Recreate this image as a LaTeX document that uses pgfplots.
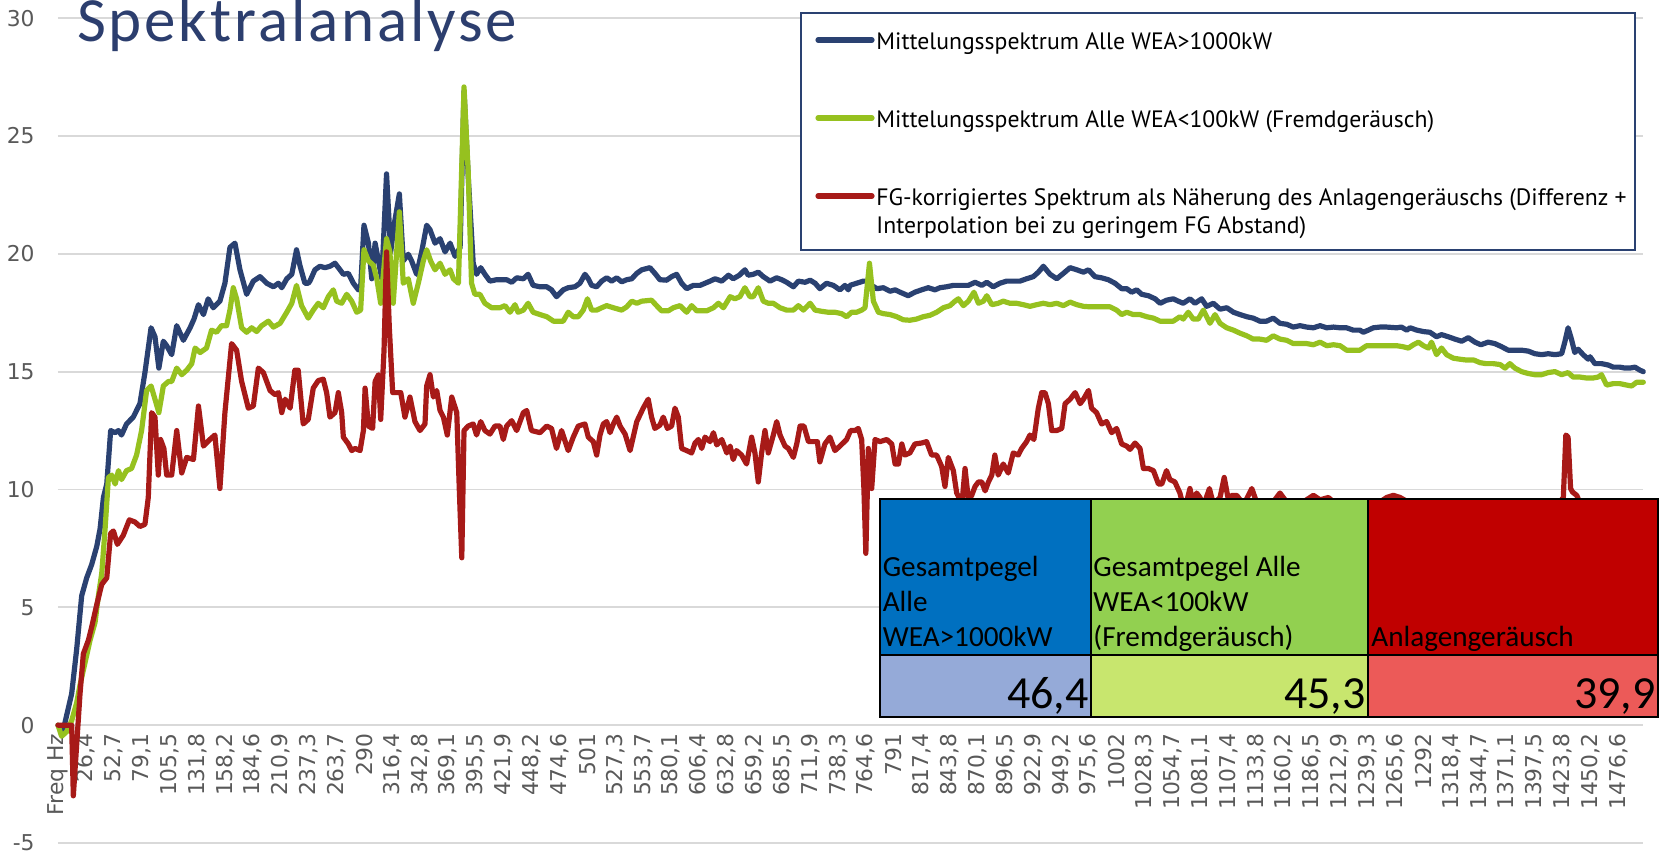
\documentclass[border=0pt]{standalone}
\usepackage{pgfplots}
\pgfplotsset{compat=1.18}
\usepackage{fontspec}
\newfontfamily\tickfont{DejaVu Sans}
\newfontfamily\legfont{PT Sans}
\newfontfamily\calfont{Carlito}
\definecolor{cblue}{RGB}{42,65,113}
\definecolor{cgreen}{RGB}{150,193,31}
\definecolor{cred}{RGB}{167,26,24}
\definecolor{gridgray}{RGB}{217,217,217}
\definecolor{tickgray}{RGB}{89,89,89}
\definecolor{titleblue}{RGB}{44,62,110}
\definecolor{hblue}{RGB}{0,112,192}
\definecolor{hgreen}{RGB}{146,208,80}
\definecolor{hred}{RGB}{192,0,0}
\definecolor{vblue}{RGB}{149,170,216}
\definecolor{vgreen}{RGB}{200,230,110}
\definecolor{vred}{RGB}{236,90,88}
\newcommand\tk{\kern1.35pt}
\begin{document}
\begin{tikzpicture}
\useasboundingbox (-29pt,-4pt) rectangle (803.5pt,421.5pt);
\begin{axis}[
  at={(0pt,0pt)}, anchor=south west,
  scale only axis, width=792.65pt, height=412.45pt,
  xmin=0, xmax=56.89, ymin=-5, ymax=30,
  axis x line*=middle,
  hide obscured x ticks=false,
  axis line style={draw=none},
  major tick length=0pt,
  ytick={-5,0,5,10,15,20,25,30},
  yticklabels={-5,0,5,10,15,20,25,30},
  ymajorgrids, grid style={color=gridgray, line width=0.9pt},
  xtick={0,1,...,56},
  xticklabels={{Freq Hz},{26,4},{52,7},{79,1},{105,5},{131,8},{158,2},{184,6},{210,9},{237,3},{263,7},{290},{316,4},{342,8},{369,1},{395,5},{421,9},{448,2},{474,6},{501},{527,3},{553,7},{580,1},{606,4},{632,8},{659,2},{685,5},{711,9},{738,3},{764,6},{791},{817,4},{843,8},{870,1},{896,5},{922,9},{949,2},{975,6},{1002},{1028,3},{1054,7},{1081,1},{1107,4},{1133,8},{1160,2},{1186,5},{1212,9},{1239,3},{1265,6},{1292},{1318,4},{1344,7},{1371,1},{1397,5},{1423,8},{1450,2},{1476,6}},
  x tick label style={rotate=90, anchor=east, inner sep=0pt, font=\tickfont\fontsize{10.9}{12}\selectfont, text=tickgray},
  xticklabel shift=4pt,
  y tick label style={anchor=east, inner sep=0pt, font=\tickfont\fontsize{10.9}{12}\selectfont, text=tickgray},
  yticklabel shift=11.5pt,
  clip=false,
  every axis plot/.append style={line width=2.6pt, line join=round, line cap=round},
]
\addplot[cblue] coordinates {(0,0) (0.19,-0.2) (0.49,1.33) (0.67,3.22) (0.85,5.49) (1.03,6.25) (1.21,6.82) (1.39,7.58) (1.51,8.33) (1.63,9.66) (1.75,10.23) (1.89,12.50) (2.05,12.41) (2.17,12.50) (2.28,12.31) (2.46,12.78) (2.70,13.07) (2.94,13.64) (3.12,14.96) (3.34,16.86) (3.48,16.48) (3.62,15.15) (3.78,16.29) (3.90,16.10) (4.08,15.72) (4.26,16.95) (4.50,16.33) (4.74,16.86) (4.88,17.23) (5.04,17.84) (5.22,17.42) (5.39,18.09) (5.57,17.71) (5.81,17.99) (5.99,18.75) (6.17,20.27) (6.35,20.45) (6.53,19.32) (6.77,18.28) (7.01,18.84) (7.25,19.03) (7.49,18.75) (7.73,18.60) (7.91,18.75) (8.03,18.56) (8.21,18.94) (8.39,19.13) (8.56,20.17) (8.68,19.51) (8.86,18.75) (8.98,18.75) (9.04,18.84) (9.22,19.32) (9.40,19.47) (9.58,19.41) (9.76,19.47) (9.94,19.60) (10.12,19.32) (10.24,19.13) (10.42,19.17) (10.60,18.75) (10.78,18.47) (10.86,18.56) (10.98,21.21) (11.14,20.45) (11.26,18.94) (11.38,20.45) (11.50,19.70) (11.62,18.94) (11.79,23.39) (11.94,20.08) (12.06,21.21) (12.25,22.54) (12.39,19.70) (12.57,19.98) (12.69,19.70) (12.87,19.13) (13.05,20.08) (13.23,21.21) (13.35,21.02) (13.53,20.45) (13.71,20.64) (13.89,20.08) (14.07,20.45) (14.25,19.89) (14.43,20.27) (14.57,26.90) (14.72,23.30) (14.90,19.60) (15.02,19.13) (15.17,19.41) (15.32,19.13) (15.50,18.84) (15.74,18.90) (16.10,18.90) (16.28,18.79) (16.46,18.98) (16.70,18.94) (16.87,19.13) (17.05,18.66) (17.30,18.60) (17.54,18.60) (17.71,18.47) (17.89,18.18) (18.13,18.47) (18.31,18.56) (18.55,18.60) (18.73,18.75) (18.91,19.13) (19.03,18.94) (19.15,18.66) (19.33,18.60) (19.51,18.84) (19.69,18.98) (19.87,18.84) (20.05,18.98) (20.23,18.81) (20.41,18.90) (20.59,18.94) (20.77,19.17) (20.95,19.32) (21.24,19.41) (21.42,19.17) (21.60,18.90) (21.84,18.88) (22.02,19.03) (22.20,19.13) (22.38,18.75) (22.56,18.52) (22.80,18.66) (23.04,18.66) (23.22,18.75) (23.40,18.84) (23.58,18.94) (23.82,18.84) (24.06,19.09) (24.23,18.94) (24.45,19.09) (24.65,19.32) (24.77,19.09) (24.95,19.13) (25.13,19.22) (25.31,19.03) (25.55,18.84) (25.79,18.98) (25.97,18.90) (26.15,18.79) (26.39,18.60) (26.57,18.84) (26.81,18.79) (26.99,18.88) (27.17,18.75) (27.34,18.52) (27.58,18.75) (27.82,18.66) (28.06,18.47) (28.24,18.66) (28.36,18.47) (28.42,18.66) (28.66,18.75) (28.90,18.84) (29.08,18.84) (29.20,18.66) (29.38,18.52) (29.62,18.56) (29.86,18.41) (30.04,18.47) (30.22,18.37) (30.51,18.22) (30.75,18.37) (30.99,18.47) (31.23,18.56) (31.47,18.47) (31.65,18.56) (31.89,18.60) (32.13,18.66) (32.37,18.66) (32.67,18.66) (32.91,18.79) (33.15,18.66) (33.33,18.79) (33.56,18.60) (33.80,18.75) (34.04,18.84) (34.28,18.84) (34.52,18.84) (34.76,18.94) (35.00,19.03) (35.18,19.22) (35.36,19.47) (35.60,19.13) (35.84,18.94) (36.08,19.17) (36.32,19.41) (36.56,19.32) (36.80,19.22) (36.98,19.32) (37.21,19.03) (37.45,18.98) (37.69,18.90) (37.93,18.75) (38.17,18.52) (38.35,18.52) (38.53,18.37) (38.71,18.47) (38.89,18.28) (39.13,18.22) (39.37,18.09) (39.55,17.90) (39.78,18.03) (40.02,18.09) (40.20,17.99) (40.38,17.90) (40.62,18.09) (40.80,17.90) (41.04,18.09) (41.22,17.77) (41.46,17.90) (41.70,17.65) (41.94,17.71) (42.18,17.52) (42.42,17.42) (42.66,17.33) (42.89,17.27) (43.13,17.14) (43.37,17.14) (43.61,17.27) (43.85,17.05) (44.09,17.01) (44.33,16.89) (44.57,16.95) (44.81,16.89) (45.05,16.86) (45.29,16.95) (45.53,16.86) (45.77,16.89) (46.01,16.86) (46.24,16.86) (46.48,16.76) (46.72,16.76) (46.84,16.67) (47.02,16.76) (47.20,16.86) (47.44,16.89) (47.68,16.89) (48.04,16.86) (48.21,16.89) (48.40,16.76) (48.52,16.86) (48.76,16.76) (49.00,16.70) (49.23,16.67) (49.47,16.48) (49.65,16.57) (49.89,16.48) (50.13,16.38) (50.37,16.29) (50.61,16.44) (50.85,16.25) (51.06,16.14) (51.32,16.25) (51.56,16.19) (51.80,16.06) (52.04,15.91) (52.28,15.91) (52.52,15.91) (52.76,15.87) (53.00,15.76) (53.24,15.72) (53.48,15.76) (53.72,15.72) (53.96,15.76) (54.08,16.29) (54.19,16.86) (54.31,16.38) (54.43,15.81) (54.55,15.95) (54.73,15.72) (54.91,15.53) (54.98,15.63) (55.15,15.34) (55.39,15.34) (55.63,15.28) (55.81,15.19) (56.05,15.19) (56.23,15.15) (56.41,15.15) (56.59,15.19) (56.77,15.06) (56.89,15.00)};
\addplot[cgreen] coordinates {(0,0) (0.13,-0.47) (0.31,-0.28) (0.49,0.19) (0.67,0.95) (0.79,1.70) (0.97,2.65) (1.15,3.60) (1.33,4.36) (1.45,5.49) (1.57,6.44) (1.69,8.33) (1.81,10.51) (1.93,10.61) (2.05,10.23) (2.17,10.80) (2.28,10.42) (2.46,10.80) (2.64,10.89) (2.82,11.46) (3.00,12.50) (3.18,14.20) (3.34,14.39) (3.48,13.83) (3.62,13.26) (3.78,14.39) (3.96,14.58) (4.08,14.58) (4.26,15.15) (4.44,14.87) (4.62,15.06) (4.80,15.34) (4.92,16.00) (5.10,15.81) (5.33,16.00) (5.51,16.76) (5.69,16.67) (5.87,16.95) (6.05,16.95) (6.17,17.61) (6.29,18.56) (6.41,18.09) (6.59,16.86) (6.77,16.67) (6.95,16.86) (7.13,16.70) (7.31,16.95) (7.55,17.14) (7.73,16.89) (7.97,17.05) (8.21,17.52) (8.39,17.90) (8.56,18.66) (8.74,17.80) (8.98,17.27) (9.16,17.61) (9.34,17.90) (9.52,17.71) (9.70,18.18) (9.88,18.47) (10.00,17.99) (10.18,17.90) (10.36,18.28) (10.54,17.99) (10.72,17.52) (10.86,17.61) (10.98,20.17) (11.14,19.70) (11.32,19.51) (11.44,18.94) (11.58,17.90) (11.79,20.64) (11.91,20.08) (12.03,17.90) (12.25,21.78) (12.39,18.75) (12.57,18.94) (12.75,17.90) (12.93,18.75) (13.11,19.70) (13.23,20.17) (13.37,19.70) (13.53,19.32) (13.71,19.60) (13.89,19.13) (14.07,19.32) (14.19,18.94) (14.37,18.75) (14.57,27.08) (14.72,23.48) (14.84,18.75) (14.96,18.28) (15.14,18.28) (15.32,17.90) (15.56,17.71) (15.86,17.71) (16.04,17.80) (16.22,17.52) (16.40,17.84) (16.51,17.52) (16.70,17.61) (16.87,17.90) (17.05,17.52) (17.30,17.42) (17.54,17.33) (17.78,17.14) (18.13,17.14) (18.31,17.52) (18.49,17.33) (18.67,17.33) (18.85,17.61) (19.00,18.09) (19.15,17.61) (19.33,17.61) (19.51,17.71) (19.69,17.80) (19.93,17.71) (20.23,17.61) (20.41,17.75) (20.59,17.99) (20.77,17.90) (20.95,17.99) (21.30,18.03) (21.48,17.80) (21.66,17.58) (21.90,17.58) (22.08,17.71) (22.32,17.80) (22.56,17.52) (22.74,17.80) (22.92,17.58) (23.28,17.58) (23.52,17.71) (23.70,17.90) (23.88,17.71) (24.12,18.18) (24.29,18.09) (24.47,18.18) (24.65,18.56) (24.83,18.18) (24.95,18.18) (25.13,18.56) (25.31,17.99) (25.49,17.90) (25.67,17.90) (25.91,17.71) (26.15,17.61) (26.39,17.61) (26.57,17.80) (26.75,17.61) (26.99,17.90) (27.17,17.61) (27.40,17.56) (27.64,17.52) (27.88,17.52) (28.12,17.46) (28.30,17.33) (28.48,17.52) (28.66,17.52) (28.84,17.61) (28.96,17.71) (29.12,19.60) (29.26,17.99) (29.44,17.52) (29.62,17.46) (29.86,17.42) (30.10,17.33) (30.33,17.20) (30.57,17.18) (30.81,17.23) (31.05,17.33) (31.29,17.39) (31.53,17.52) (31.77,17.71) (32.01,17.80) (32.19,17.99) (32.31,18.09) (32.49,17.80) (32.67,17.99) (32.87,18.37) (33.03,17.90) (33.21,17.99) (33.33,18.22) (33.51,17.84) (33.74,17.90) (33.92,17.99) (34.16,17.90) (34.40,17.90) (34.64,17.84) (34.88,17.77) (35.12,17.84) (35.36,17.90) (35.60,17.84) (35.84,17.90) (36.08,17.80) (36.32,17.95) (36.56,17.84) (36.80,17.77) (37.03,17.75) (37.27,17.75) (37.51,17.75) (37.75,17.75) (37.99,17.61) (38.17,17.42) (38.35,17.52) (38.59,17.42) (38.83,17.42) (39.07,17.33) (39.31,17.27) (39.55,17.14) (39.78,17.14) (40.02,17.14) (40.26,17.33) (40.38,17.23) (40.56,17.52) (40.74,17.23) (40.92,17.23) (41.10,17.61) (41.22,17.33) (41.34,17.05) (41.52,17.42) (41.70,17.05) (41.94,16.86) (42.18,16.76) (42.42,16.63) (42.66,16.52) (42.89,16.38) (43.13,16.38) (43.37,16.33) (43.61,16.52) (43.85,16.38) (44.09,16.33) (44.33,16.19) (44.57,16.19) (44.81,16.19) (45.05,16.14) (45.29,16.25) (45.53,16.10) (45.77,16.14) (46.01,16.10) (46.24,15.91) (46.48,15.91) (46.72,15.91) (46.96,16.10) (47.20,16.10) (47.44,16.10) (47.68,16.10) (48.04,16.10) (48.25,16.06) (48.46,16.00) (48.64,16.14) (48.82,16.25) (49.00,16.10) (49.18,16.00) (49.29,16.25) (49.47,15.72) (49.65,16.00) (49.83,15.72) (50.07,15.57) (50.29,15.53) (50.55,15.49) (50.81,15.49) (51.03,15.38) (51.24,15.34) (51.50,15.34) (51.75,15.30) (51.93,15.15) (52.10,15.34) (52.28,15.15) (52.52,15.00) (52.76,14.92) (53.00,14.87) (53.24,14.87) (53.48,14.96) (53.72,15.00) (53.96,14.87) (54.19,14.96) (54.37,14.77) (54.61,14.77) (54.85,14.73) (55.09,14.73) (55.27,14.77) (55.39,14.87) (55.57,14.43) (55.81,14.49) (56.05,14.49) (56.29,14.43) (56.47,14.39) (56.65,14.55) (56.89,14.55)};
\addplot[cred] coordinates {(0,0) (0.49,0) (0.55,-3.0) (0.79,1.33) (0.91,3.03) (1.09,3.60) (1.21,4.17) (1.39,5.11) (1.57,5.97) (1.75,6.25) (1.89,8.14) (1.99,8.24) (2.13,7.67) (2.34,8.05) (2.56,8.71) (2.76,8.62) (2.94,8.43) (3.12,8.52) (3.24,9.66) (3.36,13.26) (3.48,13.07) (3.60,10.61) (3.68,12.12) (3.80,11.74) (3.90,10.61) (4.08,10.61) (4.26,12.50) (4.44,10.70) (4.62,11.36) (4.86,11.27) (5.04,13.54) (5.22,11.84) (5.45,12.12) (5.63,12.31) (5.81,10.04) (5.99,13.26) (6.23,16.19) (6.41,15.91) (6.59,14.58) (6.83,13.45) (7.01,13.54) (7.19,15.15) (7.37,14.96) (7.61,14.20) (7.79,14.02) (7.91,14.11) (8.03,13.26) (8.15,13.83) (8.33,13.45) (8.50,15.06) (8.62,15.06) (8.80,12.78) (8.98,12.97) (9.16,14.30) (9.34,14.62) (9.52,14.68) (9.64,14.11) (9.76,13.07) (9.94,13.26) (10.06,14.11) (10.18,13.26) (10.24,12.22) (10.42,11.93) (10.54,11.65) (10.66,11.74) (10.84,11.65) (10.96,12.50) (11.02,14.30) (11.14,12.69) (11.29,12.59) (11.38,14.58) (11.50,14.87) (11.58,12.97) (11.70,15.91) (11.79,20.08) (11.89,16.86) (12.01,14.11) (12.15,14.11) (12.30,14.11) (12.45,13.07) (12.63,13.92) (12.81,12.88) (12.99,12.50) (13.17,12.78) (13.23,14.39) (13.35,14.87) (13.47,13.92) (13.59,14.20) (13.71,13.35) (13.83,13.07) (13.97,12.31) (14.13,13.92) (14.31,13.26) (14.40,10.04) (14.49,7.10) (14.57,12.50) (14.72,12.69) (14.90,12.78) (15.02,12.31) (15.17,12.88) (15.32,12.50) (15.50,12.35) (15.68,12.69) (15.86,12.69) (15.98,12.12) (16.10,12.69) (16.28,12.92) (16.46,12.50) (16.70,13.26) (16.82,13.35) (16.99,12.50) (17.30,12.41) (17.54,12.69) (17.71,12.59) (17.89,11.74) (18.07,12.50) (18.31,11.65) (18.49,12.22) (18.67,12.69) (18.91,12.78) (19.03,12.22) (19.21,12.03) (19.33,11.46) (19.45,12.31) (19.57,12.78) (19.69,12.88) (19.81,12.41) (19.93,12.78) (20.05,13.07) (20.17,12.69) (20.35,12.35) (20.53,11.65) (20.77,12.88) (21.00,13.45) (21.18,13.83) (21.30,13.07) (21.42,12.59) (21.60,12.73) (21.72,13.07) (21.87,12.59) (22.02,12.69) (22.14,13.45) (22.26,13.07) (22.38,11.74) (22.56,11.65) (22.74,11.55) (22.86,11.97) (22.98,12.12) (23.10,11.74) (23.22,12.22) (23.40,12.03) (23.52,12.41) (23.64,11.89) (23.82,12.12) (24.00,11.55) (24.12,11.84) (24.23,11.27) (24.35,11.65) (24.53,11.46) (24.71,11.08) (24.89,12.22) (25.01,11.55) (25.13,10.32) (25.25,11.55) (25.37,12.50) (25.49,11.55) (25.67,12.31) (25.79,12.88) (25.91,12.31) (26.09,11.84) (26.21,11.74) (26.39,11.36) (26.51,11.93) (26.63,12.69) (26.77,12.69) (26.93,12.03) (27.11,12.03) (27.25,12.03) (27.34,11.17) (27.52,11.93) (27.70,12.22) (27.88,11.65) (28.06,11.84) (28.30,12.12) (28.44,12.50) (28.60,12.50) (28.72,12.59) (28.84,12.12) (28.92,10.04) (28.99,7.29) (29.08,11.74) (29.20,10.04) (29.32,12.12) (29.50,12.03) (29.74,12.12) (29.92,11.93) (30.04,11.08) (30.16,11.08) (30.28,11.93) (30.39,11.46) (30.57,11.55) (30.75,11.93) (30.99,11.97) (31.17,12.03) (31.35,11.46) (31.53,11.46) (31.71,10.98) (31.83,10.13) (31.95,11.36) (32.13,10.80) (32.25,9.85) (32.37,9.56) (32.43,9.28) (32.55,10.89) (32.67,9.56) (32.79,9.75) (32.91,10.13) (33.03,10.32) (33.15,10.32) (33.27,9.94) (33.39,10.32) (33.51,10.61) (33.62,11.46) (33.74,10.61) (33.92,11.08) (34.10,10.70) (34.28,11.55) (34.46,11.46) (34.58,11.74) (34.76,12.03) (34.88,12.31) (35.02,12.12) (35.18,13.45) (35.30,14.11) (35.42,14.11) (35.54,13.64) (35.66,12.50) (35.84,12.50) (36.02,12.59) (36.14,13.64) (36.32,13.83) (36.50,14.11) (36.68,13.64) (36.80,13.83) (36.98,14.20) (37.09,13.45) (37.27,13.26) (37.45,12.78) (37.63,12.88) (37.81,12.41) (37.99,12.59) (38.17,11.93) (38.35,11.84) (38.47,11.70) (38.65,11.97) (38.83,11.74) (38.95,10.89) (39.13,10.89) (39.31,10.80) (39.49,10.23) (39.61,10.23) (39.78,10.80) (39.90,10.42) (40.08,10.32) (40.26,9.85) (40.38,9.28) (40.50,9.47) (40.62,10.04) (40.74,9.38) (40.86,9.85) (40.98,9.66) (41.10,9.28) (41.32,10.04) (41.46,9.38) (41.70,9.66) (41.85,10.51) (42.00,9.56) (42.12,9.75) (42.30,9.75) (42.42,9.56) (42.60,9.47) (42.84,10.04) (43.01,9.47) (43.25,9.28) (43.49,9.28) (43.85,9.85) (44.09,9.47) (44.33,9.38) (44.57,9.38) (45.05,9.75) (45.29,9.56) (45.59,9.66) (45.77,9.47) (46.24,9.38) (46.48,9.47) (46.96,9.47) (47.20,9.38) (47.56,9.56) (47.68,9.66) (47.92,9.75) (48.16,9.66) (48.40,9.50) (48.76,9.30) (49.23,9.20) (49.83,9.30) (50.37,9.10) (51.06,9.20) (51.80,9.00) (52.52,9.10) (53.24,9.00) (53.72,9.20) (54.02,9.66) (54.11,12.31) (54.19,12.22) (54.28,10.04) (54.35,9.89) (54.50,9.75) (54.67,9.28) (55.09,9.10) (55.63,9.00) (56.23,8.90) (56.89,8.80)};
\end{axis}
\node[anchor=base west, inner sep=0pt, text=titleblue, font=\calfont\fontsize{31.5}{31.5}\selectfont] at (9.5pt,400.5pt) {S\tk p\tk e\tk k\tk t\tk r\tk a\tk l\tk a\tk n\tk a\tk l\tk y\tk s\tk e};
\draw[cblue, line width=1pt, fill=white] (371.5pt,296.5pt) rectangle (788.5pt,415pt);
\draw[cblue, line width=2.6pt, line cap=round] (380pt,401.5pt) -- (407pt,401.5pt);
\draw[cgreen, line width=2.6pt, line cap=round] (380pt,362.5pt) -- (407pt,362.5pt);
\draw[cred, line width=2.6pt, line cap=round] (380pt,323.5pt) -- (407pt,323.5pt);
\begin{scope}[every node/.style={anchor=base west, inner sep=0pt, font=\legfont\fontsize{11.85}{14}\selectfont}]
\node at (409pt,396.7pt) {Mittelungsspektrum Alle WEA>1000kW};
\node at (409pt,357.7pt) {Mittelungsspektrum Alle WEA<100kW (Fremdgeräusch)};
\node at (409pt,318.7pt) {FG-korrigiertes Spektrum als Näherung des Anlagengeräuschs (Differenz +};
\node at (409pt,304.7pt) {Interpolation bei zu geringem FG Abstand)};
\end{scope}
\fill[hblue] (411pt,94pt) rectangle (516.5pt,172pt);
\fill[hgreen] (516.5pt,94pt) rectangle (655pt,172pt);
\fill[hred] (655pt,94pt) rectangle (800pt,172pt);
\fill[vblue] (411pt,63pt) rectangle (516.5pt,94pt);
\fill[vgreen] (516.5pt,63pt) rectangle (655pt,94pt);
\fill[vred] (655pt,63pt) rectangle (800pt,94pt);
\draw[black, line width=1.2pt] (411pt,63pt) rectangle (800pt,172pt);
\draw[black, line width=1.2pt] (411pt,94pt) -- (800pt,94pt);
\draw[black, line width=1.2pt] (516.5pt,63pt) -- (516.5pt,172pt);
\draw[black, line width=1.2pt] (655pt,63pt) -- (655pt,172pt);
\begin{scope}[every node/.style={anchor=base west, inner sep=0pt, font=\calfont\fontsize{14.6}{17}\selectfont}]
\node at (412.2pt,133.3pt) {Gesamtpegel};
\node at (412.2pt,115.65pt) {Alle};
\node at (412.2pt,98pt) {WEA>1000kW};
\node at (517.5pt,133.3pt) {Gesamtpegel Alle};
\node at (517.5pt,115.65pt) {WEA<100kW};
\node at (517.5pt,98pt) {(Fremdgeräusch)};
\node at (656.5pt,98pt) {Anlagengeräusch};
\end{scope}
\begin{scope}[every node/.style={anchor=base east, inner sep=0pt, font=\calfont\fontsize{23}{25}\selectfont}]
\node at (515.5pt,67pt) {46,4};
\node at (654pt,67pt) {45,3};
\node at (799pt,67pt) {39,9};
\end{scope}
\end{tikzpicture}
\end{document}
